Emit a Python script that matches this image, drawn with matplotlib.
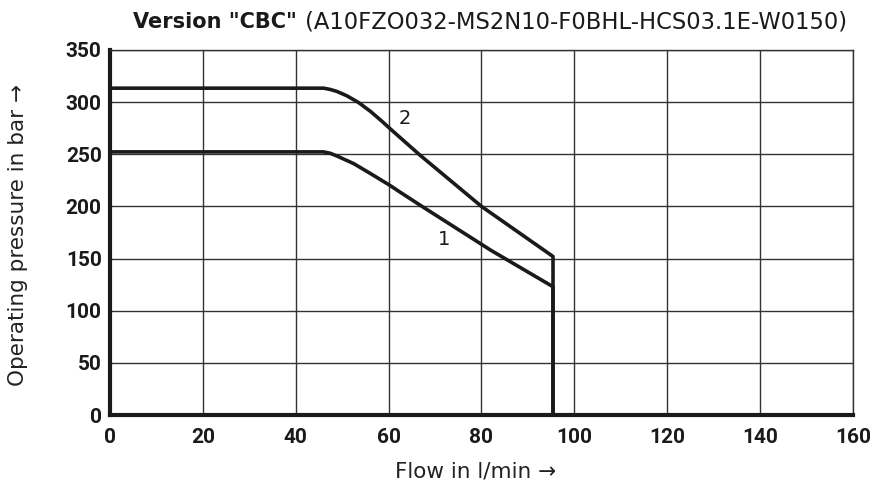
import matplotlib
matplotlib.use("Agg")
import matplotlib.pyplot as plt

# Data
curve1_x = [0, 46, 47.4, 48.9, 52.5, 56.1, 60.2, 62.5, 67.2, 82, 95.4, 95.4]
curve1_y = [252.3, 252.3, 251.0, 248.3, 241.0, 231.5, 220.4, 213.6, 200, 158, 123, 0]
curve2_x = [0, 46, 47.4, 48.9, 51, 53.5, 56.1, 58.6, 60.4, 66.8, 80, 95.4, 95.4]
curve2_y = [313.4, 313.4, 312.2, 310.2, 306.1, 299.7, 291.1, 281.5, 274.2, 249, 200, 152, 0]
x_ticks = [0, 20, 40, 60, 80, 100, 120, 140, 160]
y_ticks = [0, 50, 100, 150, 200, 250, 300, 350]
curve_labels = ["1", "2"]
label_pos = [(72, 168), (63.5, 284)]

fig = plt.figure(figsize=(8.79, 4.9), dpi=100)
ax = fig.add_axes([110/879, 75/490, 743/879, 365/490])
ax.set_xlim(0, 160)
ax.set_ylim(0, 350)
ax.set_xticks(x_ticks)
ax.set_yticks(y_ticks)
ax.grid(True, color="#333333", linewidth=1.0)
ax.set_axisbelow(True)
ax.tick_params(axis="y", length=0, pad=6)
ax.tick_params(axis="x", length=0, pad=9)
for lab in ax.get_xticklabels() + ax.get_yticklabels():
    lab.set_fontfamily("Roboto")
    lab.set_fontweight("bold")
    lab.set_fontsize(15)
    lab.set_color("#1a1a1a")
for s in ["top", "right"]:
    ax.spines[s].set_linewidth(1.0)
    ax.spines[s].set_color("#333333")
for s in ["left", "bottom"]:
    ax.spines[s].set_linewidth(3.0)
    ax.spines[s].set_color("#1a1a1a")

ax.plot(curve1_x, curve1_y, color="#1a1a1a", lw=2.6, solid_joinstyle="round", clip_on=False)
ax.plot(curve2_x, curve2_y, color="#1a1a1a", lw=2.6, solid_joinstyle="round", clip_on=False)
for t, (px, py) in zip(curve_labels, label_pos):
    ax.text(px, py, t, fontsize=14, color="#1a1a1a", ha="center", va="center",
            family="DejaVu Sans")

fig.text(476/879, 1 - 471/490, "Flow in l/min \u2192", fontsize=15.5, color="#222222",
         ha="center", va="center")
fig.text(18/879, 1 - 235/490, "Operating pressure in bar \u2192", fontsize=15.5,
         color="#222222", ha="center", va="center", rotation=90)

fig.text(133/879, 1 - 22/490, 'Version "CBC"', fontsize=15, fontweight="bold",
         color="#1a1a1a", va="center", ha="left")
fig.text(305/879, 1 - 22/490, "(A10FZO032-MS2N10-F0BHL-HCS03.1E-W0150)", fontsize=16.3,
         color="#1a1a1a", va="center", ha="left")

fig.savefig("out.png", dpi=100)
